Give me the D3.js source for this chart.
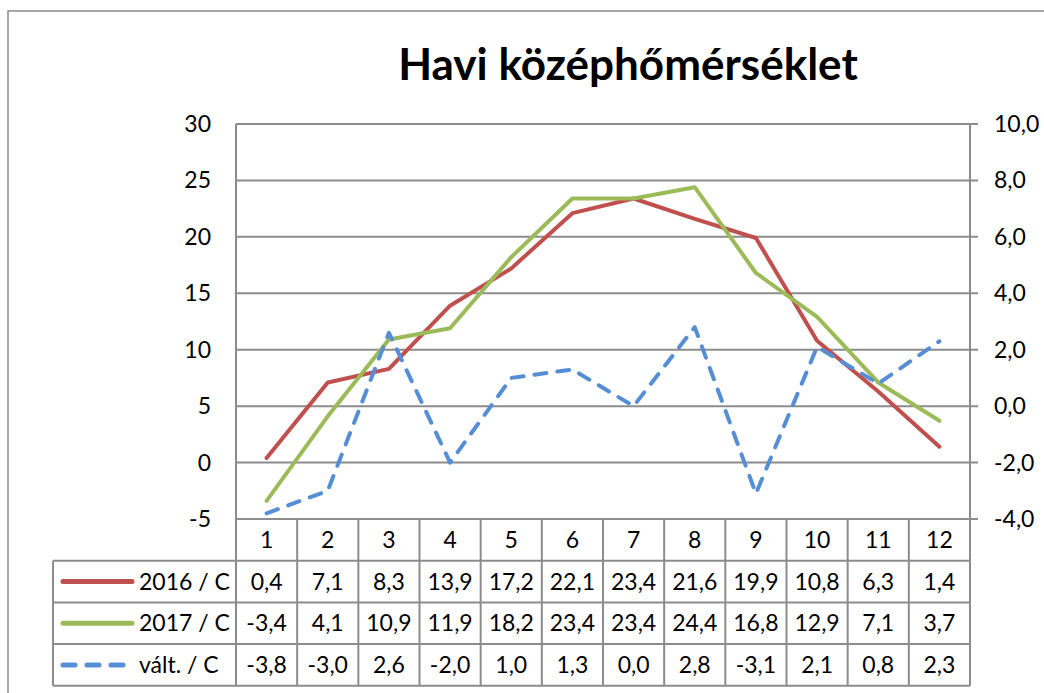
<!DOCTYPE html>
<html>
<head>
<meta charset="utf-8">
<script src="https://cdn.jsdelivr.net/npm/d3@7"></script>
<style>
  body { margin: 0; background: #fff; }
  text { font-family: Lato, "Open Sans", sans-serif; fill: #000; }
</style>
</head>
<body>
<svg id="chart" width="1044" height="693"></svg>
<script>
// Data
const months = [1, 2, 3, 4, 5, 6, 7, 8, 9, 10, 11, 12];
const temp2016 = [0.4, 7.1, 8.3, 13.9, 17.2, 22.1, 23.4, 21.6, 19.9, 10.8, 6.3, 1.4];
const temp2017 = [-3.4, 4.1, 10.9, 11.9, 18.2, 23.4, 23.4, 24.4, 16.8, 12.9, 7.1, 3.7];
const change = [-3.8, -3.0, 2.6, -2.0, 1.0, 1.3, 0.0, 2.8, -3.1, 2.1, 0.8, 2.3];
const leftTicks = [-5, 0, 5, 10, 15, 20, 25, 30];
const rightTicks = [-4, -2, 0, 2, 4, 6, 8, 10];
const seriesNames = ['2016 / C', '2017 / C', 'vált. / C'];

const svg = d3.select('#chart');
const grid = '#8c8c8c';
const fs = 23;
const fmt = v => v.toFixed(1).replace('.', ',');

// Plot area
const plotLeft = 236, plotRight = 970, plotTop = 124, plotBottom = 519;
const rowH = 41.7;
const legendLeft = 53;

const x = d3.scaleBand().domain(months).range([plotLeft, plotRight]);
const yL = d3.scaleLinear().domain([-5, 30]).range([plotBottom, plotTop]);
const yR = d3.scaleLinear().domain([-4, 10]).range([plotBottom, plotTop]);

// Outer chart border
svg.append('rect')
  .attr('x', 8).attr('y', 11)
  .attr('width', 1100).attr('height', 720)
  .attr('fill', 'none').attr('stroke', grid).attr('stroke-width', 1.5);

// Title
svg.append('text')
  .attr('x', 628).attr('y', 80)
  .attr('text-anchor', 'middle')
  .attr('font-size', 44).attr('font-weight', 'bold')
  .text('Havi középhőmérséklet');

// Gridlines (extend to the right tick marks)
svg.append('g').selectAll('line').data(leftTicks).join('line')
  .attr('x1', plotLeft).attr('x2', plotRight + 8)
  .attr('y1', d => yL(d)).attr('y2', d => yL(d))
  .attr('stroke', grid).attr('stroke-width', 2);

// Vertical axis lines
for (const xv of [plotLeft, plotRight]) {
  svg.append('line')
    .attr('x1', xv).attr('x2', xv)
    .attr('y1', plotTop).attr('y2', plotBottom + rowH)
    .attr('stroke', grid).attr('stroke-width', 2);
}

// Left axis labels
svg.append('g').selectAll('text').data(leftTicks).join('text')
  .attr('x', 211).attr('y', d => yL(d))
  .attr('dy', '0.35em')
  .attr('text-anchor', 'end')
  .attr('font-size', fs)
  .text(d => d);

// Right axis labels
svg.append('g').selectAll('text').data(rightTicks).join('text')
  .attr('x', 994).attr('y', d => yR(d))
  .attr('dy', '0.35em')
  .attr('font-size', fs)
  .text(d => fmt(d));

// Data table
const rows = [temp2016, temp2017, change];
const table = svg.append('g');

table.selectAll('line.col').data(months.slice(1)).join('line')
  .attr('class', 'col')
  .attr('x1', d => x(d)).attr('x2', d => x(d))
  .attr('y1', plotBottom).attr('y2', plotBottom + rowH * 4)
  .attr('stroke', grid).attr('stroke-width', 2);

table.selectAll('line.row').data([1, 2, 3, 4]).join('line')
  .attr('class', 'row')
  .attr('x1', legendLeft).attr('x2', plotRight)
  .attr('y1', d => plotBottom + rowH * d).attr('y2', d => plotBottom + rowH * d)
  .attr('stroke', grid).attr('stroke-width', 2);

for (const xv of [legendLeft, plotLeft, plotRight]) {
  table.append('line')
    .attr('x1', xv).attr('x2', xv)
    .attr('y1', xv === legendLeft ? plotBottom + rowH : plotBottom)
    .attr('y2', plotBottom + rowH * 4)
    .attr('stroke', grid).attr('stroke-width', 2);
}

table.selectAll('text.month').data(months).join('text')
  .attr('class', 'month')
  .attr('x', d => x(d) + x.bandwidth() / 2)
  .attr('y', plotBottom + rowH / 2)
  .attr('dy', '0.35em')
  .attr('text-anchor', 'middle')
  .attr('font-size', fs)
  .text(d => d);

rows.forEach((vals, r) => {
  table.append('g').selectAll('text').data(vals).join('text')
    .attr('x', (d, i) => x(months[i]) + x.bandwidth() / 2)
    .attr('y', plotBottom + rowH * (r + 1.5))
    .attr('dy', '0.35em')
    .attr('text-anchor', 'middle')
    .attr('font-size', fs)
    .text(d => fmt(d));
});

// Series
const series = [
  { name: seriesNames[0], values: temp2016, scale: yL, color: '#c0504d', dash: null },
  { name: seriesNames[1], values: temp2017, scale: yL, color: '#9bbb59', dash: null },
  { name: seriesNames[2], values: change, scale: yR, color: '#558ed5', dash: '12,11' }
];

series.forEach((s, r) => {
  const line = d3.line()
    .x((d, i) => x(months[i]) + x.bandwidth() / 2)
    .y(d => s.scale(d));

  svg.append('path')
    .datum(s.values)
    .attr('d', line)
    .attr('fill', 'none')
    .attr('stroke', s.color)
    .attr('stroke-width', 4)
    .attr('stroke-linecap', 'round')
    .attr('stroke-linejoin', 'round')
    .attr('stroke-dasharray', s.dash);

  // legend key in the table
  const cy = plotBottom + rowH * (r + 1.5);
  svg.append('line')
    .attr('x1', 63).attr('x2', s.dash ? 125 : 132)
    .attr('y1', cy).attr('y2', cy)
    .attr('stroke', s.color)
    .attr('stroke-width', 5)
    .attr('stroke-linecap', 'round')
    .attr('stroke-dasharray', s.dash ? '12,12' : null);

  svg.append('text')
    .attr('x', 139).attr('y', cy)
    .attr('dy', '0.35em')
    .attr('font-size', fs)
    .text(s.name);
});
</script>
</body>
</html>
